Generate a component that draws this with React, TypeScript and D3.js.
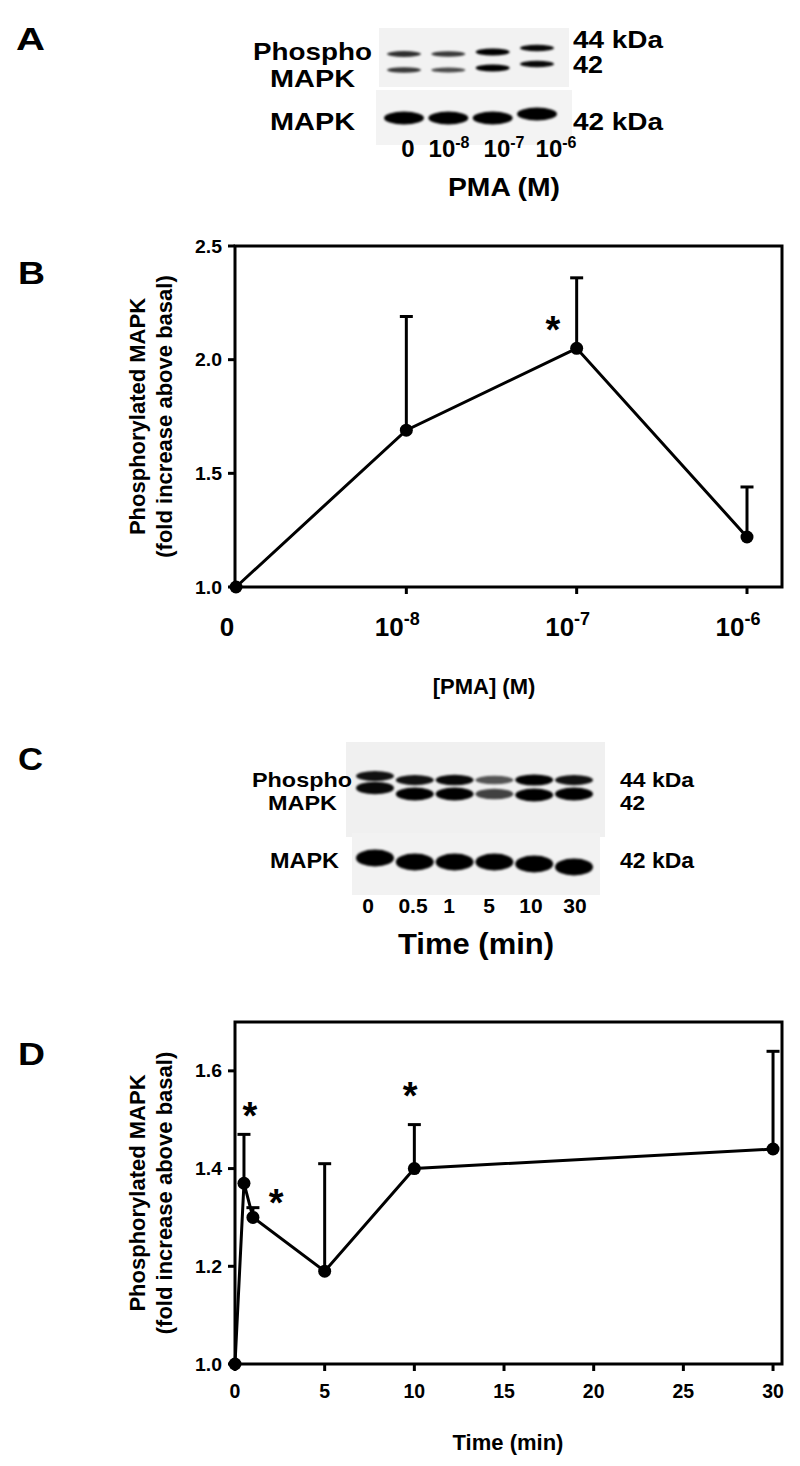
import React from 'react';
import * as d3 from 'd3';

// ---------- Panel B data: PMA concentration response ----------
const pmaCats = ['0', '-8', '-7', '-6']; // exponent of 10 (first = zero dose)
const pmaMean = [1.0, 1.69, 2.05, 1.22];
const pmaErrUp = [0, 0.5, 0.31, 0.22];
const pmaYTicks = [1.0, 1.5, 2.0, 2.5];
const pmaStars = [[1.86, 2.17]];

// ---------- Panel D data: time course ----------
const timeMin = [0, 0.5, 1, 5, 10, 30];
const timeMean = [1.0, 1.37, 1.3, 1.19, 1.4, 1.44];
const timeErrUp = [0, 0.1, 0.02, 0.22, 0.09, 0.2];
const timeXTicks = [0, 5, 10, 15, 20, 25, 30];
const timeYTicks = [1.0, 1.2, 1.4, 1.6];
const timeStars = [[0.83, 1.526], [2.29, 1.348], [9.76, 1.567]];

// ---------- Blot band intensities ----------
const aLanes = ['0', '-8', '-7', '-6'];
const aPhos44 = [0.7, 0.65, 1.0, 0.9];
const aPhos42 = [0.65, 0.55, 0.95, 0.9];
const aTotal = [1, 1, 1, 1];
const cLanes = ['0', '0.5', '1', '5', '10', '30'];
const cPhos44 = [0.85, 0.85, 0.9, 0.5, 1.0, 0.85];
const cPhos42 = [0.9, 1.0, 1.0, 0.6, 1.0, 1.0];
const cTotal = [1, 1, 1, 1, 1, 1];

const FONT = '"Liberation Sans", Arial, Helvetica, sans-serif';

function T({ x, y, size, w, anchor = 'start', children }: any) {
  const extra: any = {};
  if (w) {
    extra.textLength = w;
    extra.lengthAdjust = 'spacingAndGlyphs';
  }
  return (
    <text x={x} y={y} fontSize={size} fontWeight="bold" fontFamily={FONT} textAnchor={anchor} fill="#000" {...extra}>
      {children}
    </text>
  );
}

// two-line label as a single text element
function T2({ size, lines }: any) {
  return (
    <text fontSize={size} fontWeight="bold" fontFamily={FONT} fill="#000">
      {lines.map((l: any, i: number) => (
        <tspan key={i} x={l.x} y={l.y} textLength={l.w} lengthAdjust="spacingAndGlyphs">{l.t}</tspan>
      ))}
    </text>
  );
}

function Bands({ xs, y, vals, width, thick, offsets }: any) {
  return (
    <g filter="url(#blur)">
      {vals.map((v: number, i: number) => (
        <ellipse key={i} cx={xs[i]} cy={y + (offsets ? offsets[i] : 0)} rx={width / 2} ry={thick(v) / 2} fill="#000" fillOpacity={Math.min(1, 0.25 + v * 0.8)} />
      ))}
    </g>
  );
}

export default function App() {
  // Panel A blot
  const aX = d3.scalePoint<string>().domain(aLanes).range([404, 537]);
  const aXs = aLanes.map((l) => aX(l)!);
  const aLabelX = [408, 449, 504, 556];
  // Panel C blot
  const cX = d3.scalePoint<string>().domain(cLanes).range([375, 574]);
  const cXs = cLanes.map((l) => cX(l)!);
  const cLabelX = [368, 413, 449, 489, 531, 575];

  // Panel B scales
  const bL = 235, bR = 782, bT = 246, bB = 587;
  const xB = d3.scaleLinear().domain([0, 3]).range([236, 747]);
  const yB = d3.scaleLinear().domain([1, 2.5]).range([bB, bT]);
  const lineB = d3.line<number>().x((_, i) => xB(i)).y((d) => yB(d));

  // Panel D scales
  const dL = 235, dR = 782, dT = 1022, dB = 1364;
  const xD = d3.scaleLinear().domain([0, 30.5]).range([dL, dR]);
  const yD = d3.scaleLinear().domain([1, 1.7]).range([dB, dT]);
  const lineD = d3.line<number>().x((_, i) => xD(timeMin[i])).y((d) => yD(d));

  const SW = 3;
  const cap = 6.5;
  const r = 6.5;
  const starSize = 38;

  return (
    <svg width={800} height={1466} style={{ position: 'absolute', left: 0, top: 0, display: 'block', background: '#fff' }}>
      <defs>
        <filter id="blur" x="-20%" y="-50%" width="140%" height="200%">
          <feGaussianBlur stdDeviation="1.3" />
        </filter>
      </defs>
      <rect x={0} y={0} width={800} height={1466} fill="#fff" />

      {/* ---------------- Panel A ---------------- */}
      <T x={16} y={50} size={31} w={29}>A</T>
      <rect x={379} y={28} width={190} height={59} fill="#f2f2f2" />
      <rect x={376} y={90} width={196} height={55} fill="#f3f3f3" />
      <Bands xs={aXs} y={54} vals={aPhos44} width={34} thick={(v: number) => 3 + 4 * v} offsets={[0, 0, -2, -6]} />
      <Bands xs={aXs} y={70} vals={aPhos42} width={34} thick={(v: number) => 3 + 4 * v} offsets={[0, 0, -2, -6]} />
      <Bands xs={aXs} y={118} vals={aTotal} width={40} thick={() => 13} offsets={[0, 0, 0, -4]} />
      <T2 size={24} lines={[{ t: 'Phospho', x: 253, y: 60, w: 119 }, { t: 'MAPK', x: 270, y: 87, w: 85 }]} />
      <T x={270} y={130} size={24} w={85}>MAPK</T>
      <T2 size={23} lines={[{ t: '44 kDa', x: 573, y: 48, w: 90 }, { t: '42', x: 573, y: 73, w: 30 }]} />
      <T x={573} y={130} size={23} w={90}>42 kDa</T>
      {aLanes.map((l, i) => (
        <text key={l} x={aLabelX[i]} y={157} fontSize={24} fontWeight="bold" fontFamily={FONT} textAnchor="middle">
          {i === 0 ? '0' : (<>10<tspan fontSize={16} dy={-9}>{l}</tspan></>)}
        </text>
      ))}
      <T x={504} y={196} size={25} w={112} anchor="middle">PMA (M)</T>

      {/* ---------------- Panel B ---------------- */}
      <T x={18} y={284} size={31} w={27}>B</T>
      {pmaYTicks.map((t) => (
        <g key={t}>
          <line x1={bL - 7} x2={bL} y1={yB(t)} y2={yB(t)} stroke="#000" strokeWidth={SW} />
          <T x={222} y={yB(t) + 6.5} size={18} w={27} anchor="end">{t.toFixed(1)}</T>
        </g>
      ))}
      {pmaCats.map((c, i) => (
        <g key={c}>
          {i > 0 && <line x1={xB(i)} x2={xB(i)} y1={bB} y2={bB + 7} stroke="#000" strokeWidth={SW} />}
          <text x={xB(i) - 9} y={636} fontSize={26} fontWeight="bold" fontFamily={FONT} textAnchor="middle">
            {i === 0 ? '0' : (<>10<tspan fontSize={18} dy={-11}>{c}</tspan></>)}
          </text>
        </g>
      ))}
      <rect x={bL} y={bT} width={bR - bL} height={bB - bT} fill="none" stroke="#000" strokeWidth={SW} />
      {pmaMean.map((m, i) =>
        pmaErrUp[i] > 0 ? (
          <g key={i}>
            <line x1={xB(i)} x2={xB(i)} y1={yB(m)} y2={yB(m + pmaErrUp[i])} stroke="#000" strokeWidth={SW} />
            <line x1={xB(i) - cap} x2={xB(i) + cap} y1={yB(m + pmaErrUp[i])} y2={yB(m + pmaErrUp[i])} stroke="#000" strokeWidth={SW} />
          </g>
        ) : null
      )}
      <path d={lineB(pmaMean)!} fill="none" stroke="#000" strokeWidth={SW} />
      {pmaMean.map((m, i) => (
        <circle key={i} cx={xB(i)} cy={yB(m)} r={r} fill="#000" />
      ))}
      {pmaStars.map((s, i) => (
        <text key={i} x={xB(s[0])} y={yB(s[1]) + starSize * 0.575} fontSize={starSize} fontWeight="bold" fontFamily={FONT} textAnchor="middle">*</text>
      ))}
      <g transform={`translate(145,${(bT + bB) / 2}) rotate(-90)`}>
        <T x={0} y={0} size={22} anchor="middle">Phosphorylated MAPK</T>
      </g>
      <g transform={`translate(172,${(bT + bB) / 2}) rotate(-90)`}>
        <T x={0} y={0} size={22} anchor="middle">(fold increase above basal)</T>
      </g>
      <T x={484} y={694} size={22} anchor="middle">[PMA] (M)</T>

      {/* ---------------- Panel C ---------------- */}
      <T x={18} y={770} size={32} w={25}>C</T>
      <rect x={346} y={742} width={259} height={95} fill="#f0f0f0" />
      <rect x={352} y={833} width={248} height={62} fill="#f2f2f2" />
      <Bands xs={cXs} y={780} vals={cPhos44} width={38} thick={(v: number) => 6 + 5 * v} offsets={[-4, 0, 0, 0, 0, 0]} />
      <Bands xs={cXs} y={794} vals={cPhos42} width={38} thick={(v: number) => 7 + 6 * v} offsets={[-6, 0, 0, 0, 1, 0]} />
      <Bands xs={cXs} y={862} vals={cTotal} width={38} thick={() => 17} offsets={[-4, 0, 0, 0, 2, 5]} />
      <T2 size={21} lines={[{ t: 'Phospho', x: 252, y: 787, w: 100 }, { t: 'MAPK', x: 268, y: 810, w: 69 }]} />
      <T x={270} y={868} size={22} w={69}>MAPK</T>
      <T x={620} y={787} size={20} w={74}>44 kDa</T>
      <T x={620} y={810} size={20} w={25}>42</T>
      <T x={620} y={868} size={22} w={74}>42 kDa</T>
      {cLanes.map((l, i) => (
        <T key={l} x={cLabelX[i]} y={913} size={21} anchor="middle">{l}</T>
      ))}
      <T x={476} y={954} size={30} w={156} anchor="middle">Time (min)</T>

      {/* ---------------- Panel D ---------------- */}
      <T x={18} y={1065} size={31} w={27}>D</T>
      {timeYTicks.map((t) => (
        <g key={t}>
          <line x1={dL - 7} x2={dL} y1={yD(t)} y2={yD(t)} stroke="#000" strokeWidth={SW} />
          <T x={222} y={yD(t) + 6.5} size={18} w={27} anchor="end">{t.toFixed(1)}</T>
        </g>
      ))}
      {timeXTicks.map((t) => (
        <g key={t}>
          <line x1={xD(t)} x2={xD(t)} y1={dB} y2={dB + 7} stroke="#000" strokeWidth={SW} />
          <T x={xD(t)} y={1398} size={19.5} anchor="middle">{String(t)}</T>
        </g>
      ))}
      <rect x={dL} y={dT} width={dR - dL} height={dB - dT} fill="none" stroke="#000" strokeWidth={SW} />
      {timeMean.map((m, i) =>
        timeErrUp[i] > 0 ? (
          <g key={i}>
            <line x1={xD(timeMin[i])} x2={xD(timeMin[i])} y1={yD(m)} y2={yD(m + timeErrUp[i])} stroke="#000" strokeWidth={SW} />
            <line x1={xD(timeMin[i]) - cap} x2={xD(timeMin[i]) + cap} y1={yD(m + timeErrUp[i])} y2={yD(m + timeErrUp[i])} stroke="#000" strokeWidth={SW} />
          </g>
        ) : null
      )}
      <path d={lineD(timeMean)!} fill="none" stroke="#000" strokeWidth={SW} />
      {timeMean.map((m, i) => (
        <circle key={i} cx={xD(timeMin[i])} cy={yD(m)} r={r} fill="#000" />
      ))}
      {timeStars.map((s, i) => (
        <text key={i} x={xD(s[0])} y={yD(s[1]) + starSize * 0.575} fontSize={starSize} fontWeight="bold" fontFamily={FONT} textAnchor="middle">*</text>
      ))}
      <g transform={`translate(145,${(dT + dB) / 2}) rotate(-90)`}>
        <T x={0} y={0} size={22} anchor="middle">Phosphorylated MAPK</T>
      </g>
      <g transform={`translate(172,${(dT + dB) / 2}) rotate(-90)`}>
        <T x={0} y={0} size={22} anchor="middle">(fold increase above basal)</T>
      </g>
      <T x={508} y={1450} size={22} anchor="middle">Time (min)</T>
    </svg>
  );
}
